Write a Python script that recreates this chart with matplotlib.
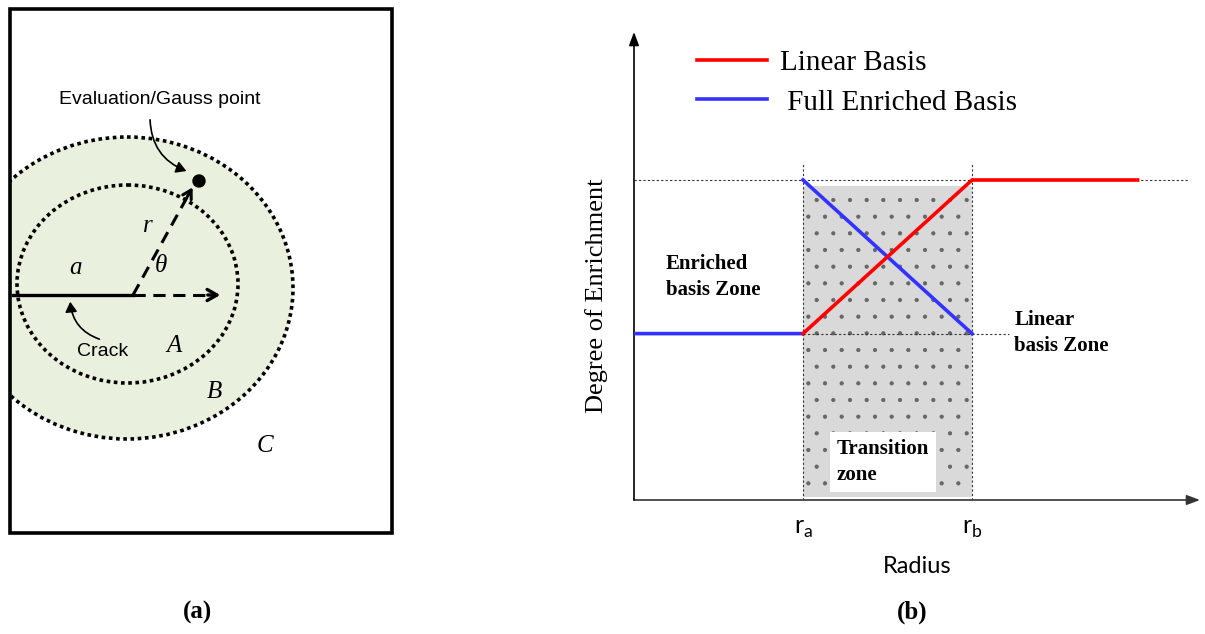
import numpy as np
import matplotlib
matplotlib.use("Agg")
import matplotlib.pyplot as plt
from matplotlib.patches import Ellipse, Rectangle, Circle, FancyArrowPatch

# ---- data for panel (b) ----
r_a, r_b = 1.0, 2.0
low, high = 0.52, 1.0
linear_r = [r_a, r_b, 2.98]
linear_deg = [low, high, high]
enriched_r = [0.0, r_a, np.nan, r_a, r_b]
enriched_deg = [low, low, np.nan, high, low]
tick_pos = [r_a, r_b]
tick_labels = [r"r$_{\mathregular{a}}$", r"r$_{\mathregular{b}}$"]
series_names = ["Linear Basis", " Full Enriched Basis"]

SERIF = ["Liberation Serif", "DejaVu Serif"]
SANS = ["Liberation Sans", "DejaVu Sans"]

plt.rcParams["hatch.linewidth"] = 0.6

fig = plt.figure(figsize=(12.05, 6.34), dpi=100)

# overlay in pixel coordinates for panel (a) and captions
ax0 = fig.add_axes([0, 0, 1, 1])
ax0.set_xlim(0, 1205)
ax0.set_ylim(634, 0)
ax0.axis("off")

box = Rectangle((10, 9), 382, 524, fill=False, lw=2.6, ec="black", zorder=5)
ax0.add_patch(box)
outer_fill = Ellipse((127, 288), 332, 302, fc="#e9f0dd", ec="none", zorder=1)
ax0.add_patch(outer_fill)
outer_fill.set_clip_path(box)
outer = Ellipse((127, 288), 332, 302, fill=False, ec="black", lw=2.6,
                ls=(0, (1.0, 1.0)), zorder=2)
ax0.add_patch(outer)
outer.set_clip_path(box)
inner = Ellipse((127.5, 284), 221, 198, fill=False, ec="black", lw=2.6,
                ls=(0, (1.0, 1.0)), zorder=2)
ax0.add_patch(inner)

# crack and radial lines
ax0.plot([13, 133], [295, 295], color="black", lw=2.4, zorder=3)
ax0.plot([133, 216], [295, 295], color="black", lw=2.2, ls=(0, (4, 2.5)), zorder=3)
ax0.annotate("", xy=(223, 295), xytext=(205, 295),
             arrowprops=dict(arrowstyle="->,head_length=0.7,head_width=0.4", lw=2.4, color="black"))
ax0.plot([133, 190], [295, 192], color="black", lw=2.2, ls=(0, (4, 2.5)), zorder=3)
ax0.annotate("", xy=(194, 185), xytext=(186, 199),
             arrowprops=dict(arrowstyle="->,head_length=0.6,head_width=0.35", lw=2.2, color="black"))
ax0.add_patch(Circle((199, 181), 6, color="black", zorder=4))

ax0.add_patch(FancyArrowPatch((150, 117), (189, 172), connectionstyle="arc3,rad=0.35",
                              arrowstyle="-|>,head_length=6,head_width=3.5", lw=1.2, color="black", zorder=4))
ax0.add_patch(FancyArrowPatch((102, 340), (70, 299), connectionstyle="arc3,rad=-0.35",
                              arrowstyle="-|>,head_length=6,head_width=3.5", lw=1.2, color="black", zorder=4))

ax0.text(160, 100, "Evaluation/Gauss point", family=SANS, fontsize=14, ha="center", va="center")
ax0.text(103, 352, "Crack", family=SANS, fontsize=14, ha="center", va="center")
for s, x, y in [("a", 76, 268), ("r", 148, 226), ("\u03b8", 161, 266),
                ("A", 174, 346), ("B", 214, 392), ("C", 265, 446)]:
    ax0.text(x, y, s, family=SERIF, style="italic", fontsize=18, ha="center", va="center")

ax0.text(197, 612, "(a)", family=SERIF, weight="bold", fontsize=18, ha="center", va="center")
ax0.text(912, 612, "(b)", family=SERIF, weight="bold", fontsize=18, ha="center", va="center")

# ---- panel (b) ----
ax = fig.add_axes([634 / 1205, 134 / 634, 566 / 1205, 468 / 634])
ax.patch.set_alpha(0)
ax.set_xlim(0, 566 / 169)
ax.set_ylim(0, 468 / 320)
for sp in ax.spines.values():
    sp.set_visible(False)

ax.annotate("", xy=(1, 0), xytext=(0, 0), xycoords="axes fraction",
            arrowprops=dict(arrowstyle="-|>,head_length=0.8,head_width=0.3", lw=1.2, color="#333333",
                            shrinkA=0, shrinkB=0))
ax.annotate("", xy=(0, 1), xytext=(0, 0), xycoords="axes fraction",
            arrowprops=dict(arrowstyle="-|>,head_length=0.8,head_width=0.3", lw=1.2, color="black",
                            shrinkA=0, shrinkB=0))

ax.fill_between([r_a, r_b], 0.01, 0.98, facecolor="#d9d9d9", edgecolor="#666666",
                hatch=".", linewidth=0, zorder=1)

dot = dict(color="#333333", lw=0.8, ls=(0, (2, 2)), zorder=2)
ax.plot([0, 3.28], [high, high], **dot)
ax.plot([r_a, 2.22], [low, low], **dot)
ax.plot([r_a, r_a], [0, 1.05], **dot)
ax.plot([r_b, r_b], [0, 1.05], **dot)

ax.plot(linear_r, linear_deg, color="#ff0000", lw=2.6, label=series_names[0], zorder=4)
ax.plot(enriched_r, enriched_deg, color="#3333ff", lw=2.6, label=series_names[1], zorder=3)

leg = ax.legend(loc="center left", bbox_to_anchor=(0.111, 0.892), frameon=False,
                prop=dict(family=SERIF, size=21), handlelength=2.4, handletextpad=0.45,
                labelspacing=0.45, borderpad=0, borderaxespad=0)

ax.set_xticks(tick_pos)
ax.set_xticklabels(tick_labels, family="Lato", fontsize=18)
ax.tick_params(axis="x", length=0, pad=12)
ax.set_yticks([])
ax.set_xlabel("Radius", family="Lato", fontsize=17, labelpad=12)
ax.set_ylabel("Degree of Enrichment", family=SERIF, fontsize=19)
ax.yaxis.set_label_coords(-0.046, (500 - 296) / 468)

bold = dict(family=SERIF, weight="bold", fontsize=15, linespacing=1.45, va="center", ha="left")
ax.text(0.19, (500 - 277) / 320, "Enriched\nbasis Zone", **bold)
ax.text(2.25, (500 - 333) / 320, "Linear\nbasis Zone", **bold)
ax.text(1.2, (500 - 462) / 320, "Transition\nzone", zorder=5,
        bbox=dict(facecolor="white", edgecolor="none", pad=5), **bold)

fig.savefig("out.png", dpi=100)
